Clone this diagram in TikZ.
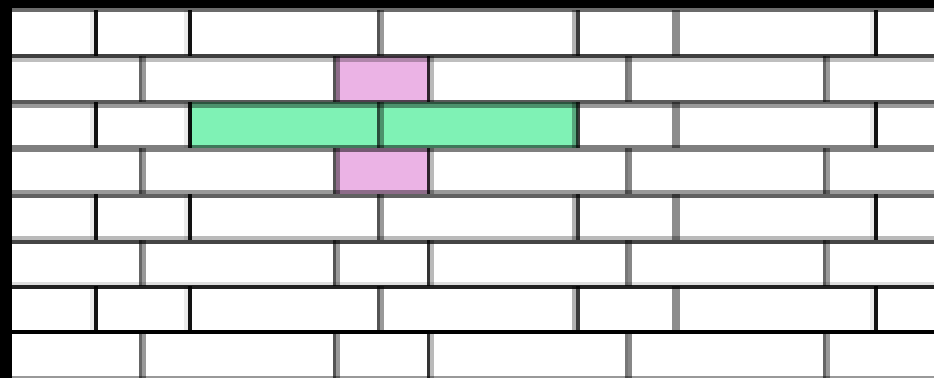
\documentclass[tikz,border=0pt]{standalone}
\usepackage{xcolor}
\usepackage{tikz}

\definecolor{brickpink}{RGB}{235,179,229}
\definecolor{brickgreen}{RGB}{127,242,181}

\begin{document}
\begin{tikzpicture}[
  x=0.25mm, y=-0.25mm,
  mortar/.style ={fill=black, fill opacity=#1},
  wall/.style   ={fill=white},
  pinkbrick/.style ={fill=brickpink},
  greenbrick/.style={fill=brickgreen},
]

% --- Fond et mur ---
\fill[black] (0,0) rectangle (934,378);
\fill[wall] (12,8) rectangle (934,378);

% --- Briques colorées ---
\fill[pinkbrick]  (336,56)  rectangle (430,102);
\fill[pinkbrick]  (336,148) rectangle (430,194);
\fill[greenbrick] (190,102) rectangle (578,148);

% --- Joints horizontaux : bande claire ---
\foreach \ya/\yb/\op in {58/62/0.25, 104/108/0.4, 190/194/0.4, 236/240/0.27, 282/285/0.13}
  \fill[mortar=\op] (12,\ya) rectangle (934,\yb);

% --- Joints verticaux, rangées impaires ---
\foreach \ya/\yb in {10/56, 102/148, 194/240, 286/332} {
  \foreach \x in {96,190,876} {
    \fill[mortar=0.08] (\x-6,\ya) rectangle (\x-2,\yb);
    \fill[mortar=0.93] (\x-2,\ya) rectangle (\x+2,\yb);
  }
  \fill[mortar=0.3]  (572,\ya) rectangle (576,\yb);
  \fill[mortar=0.77] (576,\ya) rectangle (580,\yb);
  \fill[mortar=0.45] (672,\ya) rectangle (680,\yb);
  \fill[mortar=0.67] (377,\ya) rectangle (380,\yb);
  \fill[mortar=0.4]  (380,\ya) rectangle (384,\yb);
}

% --- Joints verticaux, rangées paires ---
\foreach \ya/\yb in {56/102, 148/194, 240/286, 332/378} {
  \foreach \x/\l/\r in {142/0.6/0.4, 336/0.67/0.4, 430/0.8/0.27, 628/0.53/0.47, 826/0.6/0.4} {
    \fill[mortar=\l] (\x-3,\ya) rectangle (\x,\yb);
    \fill[mortar=\r] (\x,\ya) rectangle (\x+4,\yb);
  }
}

% --- Joints horizontaux : trait sombre ---
\foreach \ya/\yb/\op in {8/12/0.58, 54/58/0.75, 100/104/0.65, 145/152/0.5, 194/198/0.62,
                         240/244/0.73, 285/289/0.87, 330/334/1, 376/378/0.4}
  \fill[mortar=\op] (12,\ya) rectangle (934,\yb);

\end{tikzpicture}
\end{document}
